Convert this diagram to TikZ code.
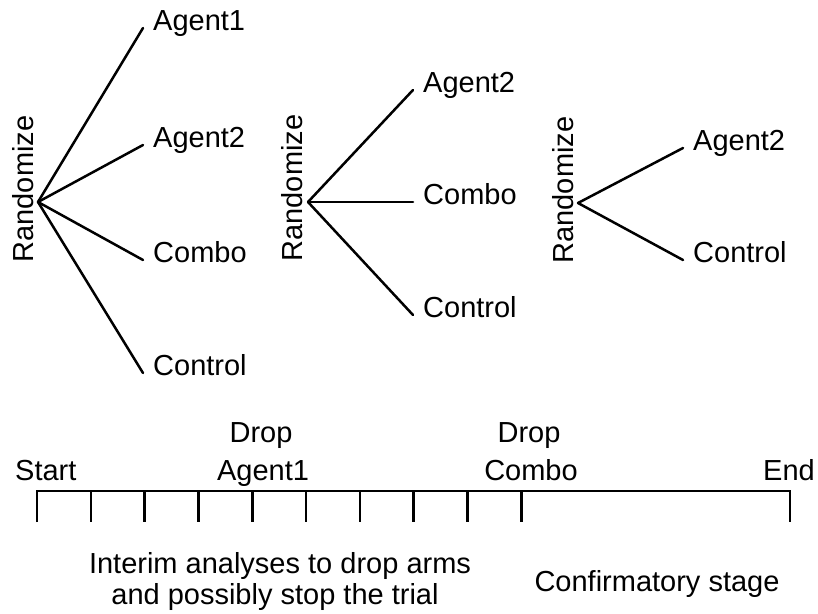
\documentclass[tikz,border=0pt]{standalone}
\usepackage{fontspec}
\setmainfont{Liberation Sans}
\begin{document}
\begin{tikzpicture}[x=1pt,y=-1pt,
  every node/.style={font=\fontsize{29}{31}\selectfont, inner sep=0pt},
  arm/.style={anchor=west, inner xsep=10pt, text height=0.75em, text depth=0.25em},
  rand/.style={rotate=90, anchor=base},
  branch/.style={line width=2.5pt, line cap=round, line join=round},
  axis/.style={line width=2.6pt, line join=miter}]
\useasboundingbox (0,0) rectangle (818,613);

% Tree 1
\coordinate (r1) at (38,202);
\node[rand] (z1) at (33,189) {Randomize};
\node[arm] (a1) at (143,28) {Agent1};
\node[arm] (a2) at (143,145) {Agent2};
\node[arm] (a3) at (143,260) {Combo};
\node[arm] (a4) at (143,373) {Control};
\foreach \n in {a1,a2,a3,a4} \draw[branch] (r1) -- (\n.west);

% Tree 2
\coordinate (r2) at (308,202);
\node[rand] (z2) at (302,188) {Randomize};
\node[arm] (b1) at (413,90) {Agent2};
\node[arm] (b2) at (413,202) {Combo};
\node[arm] (b3) at (413,315) {Control};
\foreach \n in {b1,b2,b3} \draw[branch] (r2) -- (\n.west);

% Tree 3
\coordinate (r3) at (578,203);
\node[rand] (z3) at (573,190) {Randomize};
\node[arm] (c1) at (683,148) {Agent2};
\node[arm] (c2) at (683,260) {Control};
\foreach \n in {c1,c2} \draw[branch] (r3) -- (\n.west);

% Timeline
\foreach \k in {0,...,9} {
  \coordinate (t\k) at ({37+53.8*\k},491);
  \coordinate (b\k) at ({37+53.8*\k},522);
}
\coordinate (tE) at (790,491);
\coordinate (bE) at (790,522);
\draw[axis] (b0) -- (t0) -- (tE) -- (bE);
\foreach \k in {1,...,9} \draw[axis] (t\k) -- (b\k);

\node[anchor=base west] (start) at (15,480) {Start};
\node[anchor=base east] (end) at (815,480) {End};
\node[anchor=base] (drop1) at (261,442) {Drop};
\node[anchor=base] (ag1) at (263,480) {Agent1};
\node[anchor=base] (drop2) at (529,442) {Drop};
\node[anchor=base] (cb2) at (531,480) {Combo};

\node[anchor=base] (int1) at (280,573) {Interim analyses to drop arms};
\node[anchor=base] (int2) at (275,604) {and possibly stop the trial};
\node[anchor=base] (conf) at (657,591) {Confirmatory stage};
\end{tikzpicture}
\end{document}
